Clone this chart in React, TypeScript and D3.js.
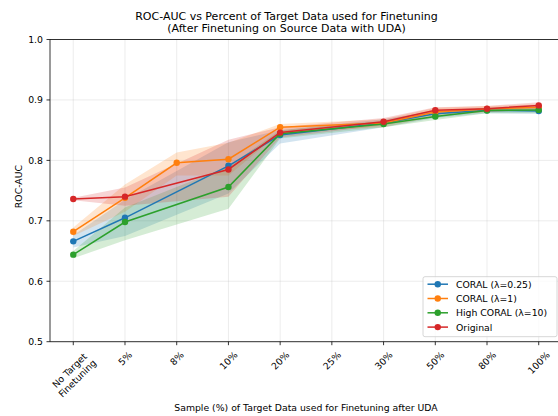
import React from "react";
import * as d3 from "d3";

const categories = ["No Target\nFinetuning", "5%", "8%", "10%", "20%", "25%", "30%", "50%", "80%", "100%"];
const yTicks = [0.5, 0.6, 0.7, 0.8, 0.9, 1.0];

// values per category (null = not measured)
const blueMean = [0.666, 0.705, null, 0.791, 0.842, null, 0.862, 0.877, 0.883, 0.8815];
const blueLow = [0.656, 0.675, null, 0.745, 0.828, null, 0.855, 0.870, 0.878, 0.877];
const blueHigh = [0.676, 0.735, null, 0.830, 0.850, null, 0.868, 0.882, 0.887, 0.887];

const orangeMean = [0.682, 0.738, 0.796, 0.802, 0.855, null, 0.862, 0.880, 0.885, 0.888];
const orangeLow = [0.675, 0.715, 0.775, 0.775, 0.846, null, 0.855, 0.872, 0.880, 0.883];
const orangeHigh = [0.689, 0.760, 0.813, 0.829, 0.860, null, 0.868, 0.887, 0.890, 0.893];

const greenMean = [0.644, 0.698, null, 0.756, 0.844, null, 0.860, 0.8725, 0.8825, 0.8835];
const greenLow = [0.638, 0.668, null, 0.720, 0.836, null, 0.855, 0.867, 0.878, 0.878];
const greenHigh = [0.650, 0.722, null, 0.790, 0.850, null, 0.865, 0.878, 0.887, 0.888];

const redMean = [0.736, 0.740, null, 0.785, 0.846, null, 0.864, 0.883, 0.8855, 0.891];
const redLow = [0.734, 0.725, null, 0.740, 0.838, null, 0.858, 0.877, 0.880, 0.885];
const redHigh = [0.738, 0.755, null, 0.834, 0.855, null, 0.870, 0.888, 0.890, 0.896];

const seriesNames = ["CORAL (λ=0.25)", "CORAL (λ=1)", "High CORAL (λ=10)", "Original"];
const seriesColors = ["#1f77b4", "#ff7f0e", "#2ca02c", "#d62728"];

const series = [
  { name: seriesNames[0], color: seriesColors[0], mean: blueMean, low: blueLow, high: blueHigh },
  { name: seriesNames[1], color: seriesColors[1], mean: orangeMean, low: orangeLow, high: orangeHigh },
  { name: seriesNames[2], color: seriesColors[2], mean: greenMean, low: greenLow, high: greenHigh },
  { name: seriesNames[3], color: seriesColors[3], mean: redMean, low: redLow, high: redHigh },
];

const FONT = '"DejaVu Sans", sans-serif';
const W = 558;
const H = 416;
const M = { left: 50, right: 562, top: 39.5, bottom: 341.7 };

function measure(text: string, size: number) {
  const c = document.createElement("canvas").getContext("2d");
  if (!c) return text.length * size * 0.55;
  c.font = `${size}px "DejaVu Sans"`;
  return c.measureText(text).width;
}

export default function App() {
  const x = d3.scalePoint<string>().domain(categories).range([M.left, M.right]).padding(0.45);
  const y = d3.scaleLinear().domain([0.5, 1.0]).range([M.bottom, M.top]);

  const tickSize = 9.3;
  const lineH = tickSize * 1.2;

  const pts = (s: typeof series[0]) =>
    categories
      .map((c, i) => ({ c, m: s.mean[i], lo: s.low[i], hi: s.high[i] }))
      .filter((d) => d.m != null) as { c: string; m: number; lo: number; hi: number }[];

  const line = d3
    .line<{ c: string; m: number }>()
    .x((d) => x(d.c)!)
    .y((d) => y(d.m));
  const area = d3
    .area<{ c: string; lo: number; hi: number }>()
    .x((d) => x(d.c)!)
    .y0((d) => y(d.lo))
    .y1((d) => y(d.hi));

  const legendX = 423;
  const legendY = 276.7;
  const legendW = 134;
  const legendH = 60;

  return (
    <svg width={W} height={H} style={{ position: "absolute", left: 0, top: 0 }} fontFamily={FONT}>
      <rect x={0} y={0} width={W} height={H} fill="#fff" />
      {/* grid */}
      {categories.map((c) => (
        <line key={"gx" + c} x1={x(c)} x2={x(c)} y1={M.top} y2={M.bottom} stroke="#b0b0b0" strokeOpacity={0.3} strokeWidth={0.8} />
      ))}
      {yTicks.map((t) => (
        <line key={"gy" + t} x1={M.left} x2={M.right} y1={y(t)} y2={y(t)} stroke="#b0b0b0" strokeOpacity={0.3} strokeWidth={0.8} />
      ))}
      {/* bands */}
      {series.map((s) => (
        <path key={"a" + s.name} d={area(pts(s)) || ""} fill={s.color} fillOpacity={0.2} stroke="none" />
      ))}
      {/* lines */}
      {series.map((s) => (
        <g key={"l" + s.name}>
          <path d={line(pts(s)) || ""} fill="none" stroke={s.color} strokeWidth={1.5} />
          {pts(s).map((d) => (
            <circle key={d.c} cx={x(d.c)} cy={y(d.m)} r={3.2} fill={s.color} />
          ))}
        </g>
      ))}
      {/* spines */}
      <line x1={M.left} x2={M.left} y1={M.top} y2={M.bottom} stroke="#000" strokeWidth={0.8} />
      <line x1={M.left} x2={M.right} y1={M.bottom} y2={M.bottom} stroke="#000" strokeWidth={0.8} />
      <line x1={M.left} x2={M.right} y1={M.top} y2={M.top} stroke="#000" strokeWidth={0.8} />
      <line x1={M.right} x2={M.right} y1={M.top} y2={M.bottom} stroke="#000" strokeWidth={0.8} />
      {/* y ticks */}
      {yTicks.map((t) => (
        <g key={"yt" + t}>
          <line x1={M.left - 3.5} x2={M.left} y1={y(t)} y2={y(t)} stroke="#000" strokeWidth={0.8} />
          <text x={M.left - 7} y={y(t)} textAnchor="end" dominantBaseline="central" fontSize={tickSize} fill="#000">
            {t.toFixed(1)}
          </text>
        </g>
      ))}
      {/* x ticks */}
      {categories.map((c) => {
        const lines = c.split("\n");
        const w = Math.max(...lines.map((l) => measure(l, tickSize)));
        const h = lines.length * lineH;
        const side = (w + h) * Math.SQRT1_2;
        const cx = x(c)!;
        const cy = M.bottom + 3.5 + 4 + side / 2;
        return (
          <g key={"xt" + c}>
            <line x1={cx} x2={cx} y1={M.bottom} y2={M.bottom + 3.5} stroke="#000" strokeWidth={0.8} />
            <g transform={`translate(${cx},${cy}) rotate(-45)`}>
              {lines.map((l, i) => (
                <text
                  key={i}
                  x={0}
                  y={(i - (lines.length - 1) / 2) * lineH}
                  textAnchor="middle"
                  dominantBaseline="central"
                  fontSize={tickSize}
                  fill="#000"
                >
                  {l}
                </text>
              ))}
            </g>
          </g>
        );
      })}
      {/* axis labels */}
      <text x={(M.left + M.right) / 2} y={411} textAnchor="middle" fontSize={9.3} fill="#000">
        Sample (%) of Target Data used for Finetuning after UDA
      </text>
      <text transform={`translate(18,${(M.top + M.bottom) / 2 - 4}) rotate(-90)`} textAnchor="middle" dominantBaseline="central" fontSize={9.3} fill="#000">
        ROC-AUC
      </text>
      {/* title */}
      <text x={286.5} y={19.5} textAnchor="middle" fontSize={11} fill="#000">
        ROC-AUC vs Percent of Target Data used for Finetuning
      </text>
      <text x={286.5} y={32} textAnchor="middle" fontSize={11} fill="#000">
        (After Finetuning on Source Data with UDA)
      </text>
      {/* legend */}
      <rect x={legendX} y={legendY} width={legendW} height={legendH} rx={2} fill="#fff" fillOpacity={0.8} stroke="#cccccc" strokeWidth={0.8} />
      {series.map((s, i) => {
        const ly = legendY + 7.5 + i * 14.3;
        return (
          <g key={"lg" + s.name}>
            <line x1={legendX + 4.5} x2={legendX + 25} y1={ly} y2={ly} stroke={s.color} strokeWidth={1.5} />
            <circle cx={legendX + 14.75} cy={ly} r={3.2} fill={s.color} />
            <text x={legendX + 33} y={ly} dominantBaseline="central" fontSize={9.3} fill="#000">
              {s.name}
            </text>
          </g>
        );
      })}
    </svg>
  );
}
